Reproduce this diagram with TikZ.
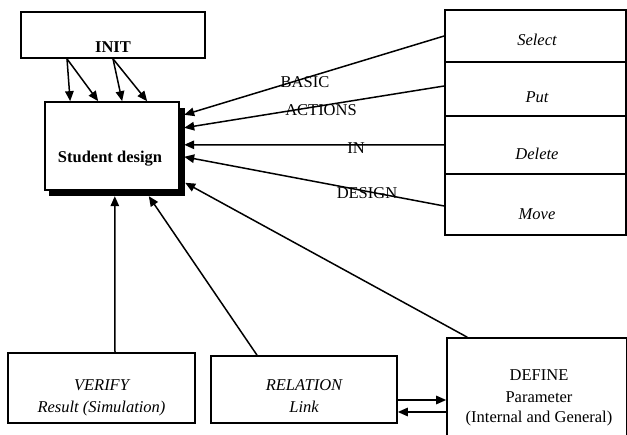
\documentclass[tikz,border=0pt]{standalone}
\usepackage{fontspec}
\setmainfont{Liberation Serif}
\usetikzlibrary{arrows.meta,calc}
\begin{document}
\begin{tikzpicture}[x=1pt,y=-1pt,
  box/.style={draw,line width=1.7pt,fill=white,inner sep=0pt},
  txt/.style={inner sep=0pt,anchor=base,font=\fontsize{16.5}{19}\selectfont},
  arr/.style={line width=1.5pt,-{Triangle[length=10pt,width=8.5pt]}},
  ln/.style={line width=1.5pt}]
\useasboundingbox (0,0) rectangle (627,435);
% INIT
\node[box,minimum width=184pt,minimum height=46pt] (init) at (113,35) {};
\node[txt,font=\fontsize{16.5}{19}\selectfont\bfseries] (initt) at (113,53) {INIT};
% Student design with shadow
\node[draw,fill=black,minimum width=135pt,minimum height=87pt,inner sep=0pt] (sdsh) at (116.5,151.5) {};
\node[box,minimum width=134pt,minimum height=88pt] (sd) at (112,146) {};
\node[txt,font=\fontsize{16.5}{19}\selectfont\bfseries] (sdt) at (110,163) {Student design};
% right stack
\node[box,minimum width=181pt,minimum height=52pt] (sel) at (535.5,36) {};
\node[box,minimum width=181pt,minimum height=54pt] (put) at (535.5,89) {};
\node[box,minimum width=181pt,minimum height=58pt] (del) at (535.5,145) {};
\node[box,minimum width=181pt,minimum height=61pt] (mov) at (535.5,204.5) {};
\node[txt,font=\fontsize{16.5}{19}\selectfont\itshape] (selt) at (537,46) {Select};
\node[txt,font=\fontsize{16.5}{19}\selectfont\itshape] (putt) at (537,103) {Put};
\node[txt,font=\fontsize{16.5}{19}\selectfont\itshape] (delt) at (537,160) {Delete};
\node[txt,font=\fontsize{16.5}{19}\selectfont\itshape] (movt) at (537,220) {Move};
% bottom boxes
\node[box,minimum width=187pt,minimum height=70pt] (ver) at (101.5,388) {};
\node[txt,font=\fontsize{16.5}{19}\selectfont\itshape] (vert1) at (101.5,391) {VERIFY};
\node[txt,font=\fontsize{16.5}{19}\selectfont\itshape] (vert2) at (101.5,413) {Result (Simulation)};
\node[box,minimum width=186pt,minimum height=67pt] (rel) at (304,389.5) {};
\node[txt,font=\fontsize{16.5}{19}\selectfont\itshape] (relt1) at (304,391) {RELATION};
\node[txt,font=\fontsize{16.5}{19}\selectfont\itshape] (relt2) at (304,413) {Link};
\node[box,minimum width=180pt,minimum height=110pt] (def) at (537,393) {};
\node[txt] (deft1) at (539,381) {DEFINE};
\node[txt] (deft2) at (539,403) {Parameter};
\node[txt] (deft3) at (539,423) {(Internal and General)};
% labels
\node[txt] (lb1) at (305,88) {BASIC};
\node[txt] (lb2) at (321,116) {ACTIONS};
\node[txt] (lb3) at (356,154) {IN};
\node[txt] (lb4) at (367,199) {DESIGN};
% INIT arrows
\coordinate (i1) at ($(init.south)+(-46,0)$);
\draw[arr] (i1) -- ($(sd.north west)+(26,0)$);
\draw[arr] (i1) -- ($(sd.north west)+(54,0)$);
\draw[arr] (init.south) -- ($(sd.north west)+(78,0)$);
\draw[arr] (init.south) -- ($(sd.north west)+(103,0)$);
% right arrows
\draw[arr] (sel.west) -- ($(sdsh.north east)+(0,7)$);
\draw[arr] ($(put.west)+(0,-3)$) -- ($(sdsh.north east)+(0,20)$);
\draw[arr] (del.west) -- ($(sdsh.north east)+(0,37)$);
\draw[arr] ($(mov.west)+(0,1.5)$) -- ($(sdsh.north east)+(0,49)$);
\draw[arr] ($(def.north west)+(21,0)$) -- ($(sdsh.north east)+(1,75)$);
% bottom arrows
\draw[arr] ($(ver.north)+(13.5,0)$) -- ($(sdsh.south west)+(66,1)$);
\draw[arr] ($(rel.north)+(-47,0)$) -- ($(sdsh.south west)+(100,1)$);
\draw[arr] ($(rel.east)+(0,10.5)$) -- ($(def.west)+(0,7)$);
\draw[arr] ($(def.west)+(0,19)$) -- ($(rel.east)+(0,22.5)$);
\end{tikzpicture}
\end{document}
